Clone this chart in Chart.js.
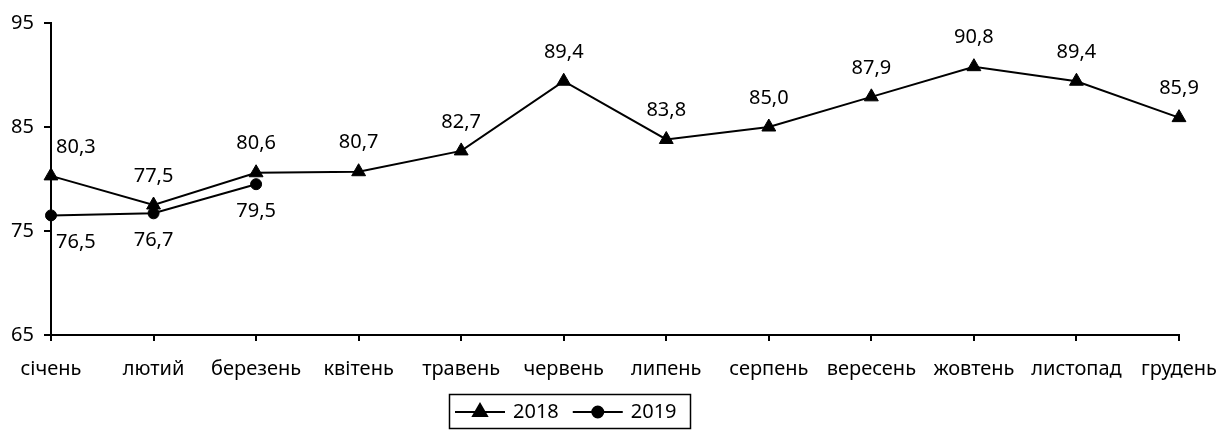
<!DOCTYPE html>
<html>
<head>
<meta charset="utf-8">
<script src="https://cdn.jsdelivr.net/npm/chart.js@4.4.1/dist/chart.umd.min.js"></script>
<style>
  html, body { margin: 0; padding: 0; background: #fff; }
  #wrap { width: 1217px; height: 430px; position: relative; }
</style>
</head>
<body>
<div id="wrap"><canvas id="chart"></canvas></div>
<script>
// --- данные ---
const months = ['січень', 'лютий', 'березень', 'квітень', 'травень', 'червень',
                'липень', 'серпень', 'вересень', 'жовтень', 'листопад', 'грудень'];
const values2018 = [80.3, 77.5, 80.6, 80.7, 82.7, 89.4, 83.8, 85.0, 87.9, 90.8, 89.4, 85.9];
const values2019 = [76.5, 76.7, 79.5, null, null, null, null, null, null, null, null, null];
const seriesNames = ['2018', '2019'];
const yMin = 65;
const yMax = 95;
const yStep = 10;

const FONT = '"Noto Sans", sans-serif';
const FONT_SIZE = 20;

// подписи значений (над 2018, под 2019)
const valueLabels = {
  id: 'valueLabels',
  afterDatasetsDraw(chart) {
    const ctx = chart.ctx;
    const area = chart.chartArea;
    ctx.save();
    ctx.font = FONT_SIZE + 'px ' + FONT;
    ctx.fillStyle = '#000';
    ctx.textAlign = 'center';
    ctx.textBaseline = 'middle';
    chart.data.datasets.forEach((ds, i) => {
      const meta = chart.getDatasetMeta(i);
      const dy = i === 0 ? -29 : 27;
      meta.data.forEach((pt, j) => {
        const v = ds.data[j];
        if (v == null) return;
        const text = v.toFixed(1).replace('.', ',');
        const half = ctx.measureText(text).width / 2;
        const x = Math.max(pt.x, area.left + half + 5);
        ctx.fillText(text, x, pt.y + dy);
      });
    });
    ctx.restore();
  }
};

// легенда в рамке
const boxedLegend = {
  id: 'boxedLegend',
  afterDraw(chart) {
    const ctx = chart.ctx;
    const left = 449, top = 394, w = 241, h = 34;
    const cy = top + h / 2 + 1;
    ctx.save();
    ctx.strokeStyle = '#000';
    ctx.lineWidth = 1.5;
    ctx.strokeRect(left + 0.5, top + 0.5, w, h);
    ctx.font = FONT_SIZE + 'px ' + FONT;
    ctx.fillStyle = '#000';
    ctx.textBaseline = 'middle';
    ctx.textAlign = 'left';
    let x = left + 6;
    chart.data.datasets.forEach(ds => {
      ctx.beginPath();
      ctx.moveTo(x, cy);
      ctx.lineTo(x + 50, cy);
      ctx.lineWidth = 2;
      ctx.stroke();
      Chart.helpers.drawPoint(ctx, {
        pointStyle: ds.pointStyle,
        radius: ds.pointRadius,
        borderWidth: 1
      }, x + 25, cy);
      ctx.fillText(ds.label, x + 58, cy);
      x += 58 + ctx.measureText(ds.label).width + 14;
    });
    ctx.restore();
  }
};

const ctx = document.getElementById('chart').getContext('2d');

new Chart(ctx, {
  type: 'line',
  data: {
    labels: months,
    datasets: [
      {
        label: seriesNames[0],
        data: values2018,
        borderColor: '#000',
        backgroundColor: '#000',
        borderWidth: 2,
        pointStyle: 'triangle',
        pointRadius: 8,
        pointBorderWidth: 1,
        pointBackgroundColor: '#000',
        pointBorderColor: '#000',
        tension: 0,
        order: 2
      },
      {
        label: seriesNames[1],
        data: values2019,
        borderColor: '#000',
        backgroundColor: '#000',
        borderWidth: 2,
        pointStyle: 'circle',
        pointRadius: 5.5,
        pointBorderWidth: 1,
        pointBackgroundColor: '#000',
        pointBorderColor: '#000',
        tension: 0,
        spanGaps: false,
        order: 1
      }
    ]
  },
  options: {
    responsive: true,
    maintainAspectRatio: false,
    animation: false,
    layout: { padding: { top: 23, right: 38, left: 0, bottom: 45 } },
    scales: {
      x: {
        offset: false,
        grid: { display: true, drawOnChartArea: false, drawTicks: true, tickLength: 6, color: '#000', lineWidth: 2 },
        border: { display: true, color: '#000', width: 2 },
        ticks: {
          color: '#000',
          font: { family: FONT, size: FONT_SIZE },
          padding: 16,
          maxRotation: 0,
          autoSkip: false
        },
        afterFit(scale) {
          scale.height = 50;
          scale.paddingLeft = 0;
          scale.paddingRight = 0;
        }
      },
      y: {
        min: yMin,
        max: yMax,
        grid: { display: true, drawOnChartArea: false, drawTicks: true, tickLength: 7, color: '#000', lineWidth: 2 },
        border: { display: true, color: '#000', width: 2 },
        ticks: {
          stepSize: yStep,
          color: '#000',
          font: { family: FONT, size: FONT_SIZE },
          padding: 10
        },
        afterFit(scale) {
          scale.width = 51;
          scale.paddingTop = 0;
          scale.paddingBottom = 0;
        }
      }
    },
    plugins: {
      legend: { display: false },
      tooltip: { enabled: false }
    }
  },
  plugins: [valueLabels, boxedLegend]
});
</script>
</body>
</html>
